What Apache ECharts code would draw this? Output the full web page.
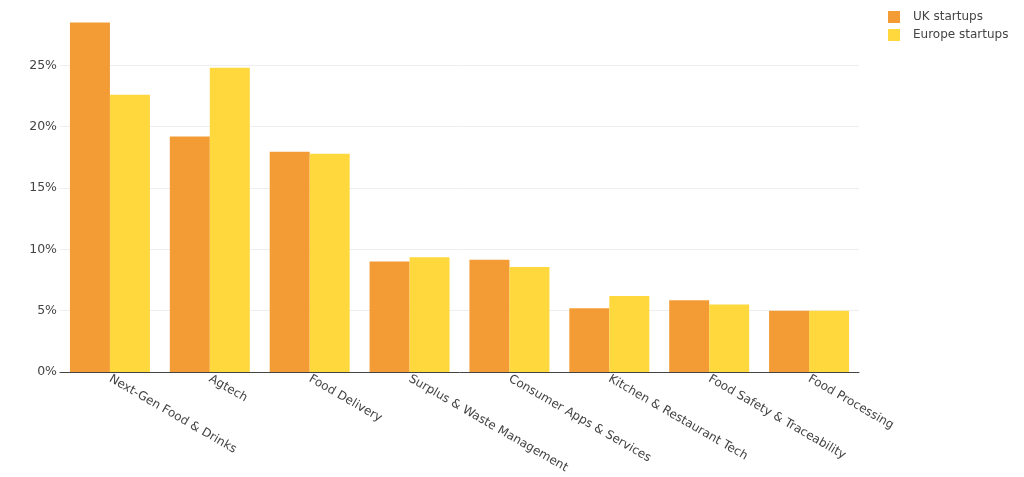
<!DOCTYPE html>
<html>
<head>
<meta charset="utf-8">
<script src="https://cdn.jsdelivr.net/npm/echarts@6/dist/echarts.min.js"></script>
<style>
  html, body { margin: 0; padding: 0; background: #fff; }
  #chart { width: 1024px; height: 477px; }
</style>
</head>
<body>
<div id="chart"></div>
<script>
'use strict';
var categories = ['Next-Gen Food & Drinks', 'Agtech', 'Food Delivery', 'Surplus & Waste Management',
  'Consumer Apps & Services', 'Kitchen & Restaurant Tech', 'Food Safety & Traceability', 'Food Processing'];
var ukValues = [28.5, 19.2, 17.95, 9.0, 9.15, 5.2, 5.85, 5.0];
var europeValues = [22.6, 24.8, 17.8, 9.35, 8.55, 6.2, 5.5, 5.0];
var yTicks = [0, 5, 10, 15, 20, 25];

var chart = echarts.init(document.getElementById('chart'));
var font = 'DejaVu Sans, Verdana, sans-serif';

var option = {
  animation: false,
  textStyle: { fontFamily: font },
  legend: {
    orient: 'vertical',
    left: 883,
    top: 6,
    itemWidth: 12,
    itemHeight: 12,
    itemGap: 6,
    icon: 'rect',
    textStyle: { color: '#444', fontSize: 12, fontFamily: font, padding: [0, 0, 0, 8] },
    data: ['UK startups', 'Europe startups']
  },
  grid: {
    left: 60,
    top: 4,
    width: 799,
    height: 368
  },
  xAxis: {
    type: 'category',
    data: categories,
    axisLine: { lineStyle: { color: '#444', width: 1 } },
    axisTick: { show: false },
    axisLabel: {
      rotate: -30,
      interval: 0,
      color: '#444',
      fontSize: 12,
      fontFamily: font,
      margin: 6
    }
  },
  yAxis: {
    type: 'value',
    min: 0,
    max: 30,
    interval: 5,
    axisLine: { show: false },
    axisTick: { show: false },
    axisLabel: {
      color: '#444',
      fontSize: 12.5,
      fontFamily: font,
      margin: 3,
      formatter: function (v) {
        return yTicks.indexOf(v) >= 0 ? v + '%' : '';
      }
    },
    splitLine: {
      lineStyle: {
        color: ['#eee', '#eee', '#eee', '#eee', '#eee', '#eee', 'rgba(0,0,0,0)'],
        width: 1
      }
    }
  },
  series: [{
    name: 'UK startups',
    type: 'bar',
    data: ukValues,
    barWidth: 40,
    barGap: '0%',
    itemStyle: { color: '#F39C35' }
  }, {
    name: 'Europe startups',
    type: 'bar',
    data: europeValues,
    barWidth: 40,
    barGap: '0%',
    itemStyle: { color: '#FFD83D' }
  }]
};

chart.setOption(option);
</script>
</body>
</html>
